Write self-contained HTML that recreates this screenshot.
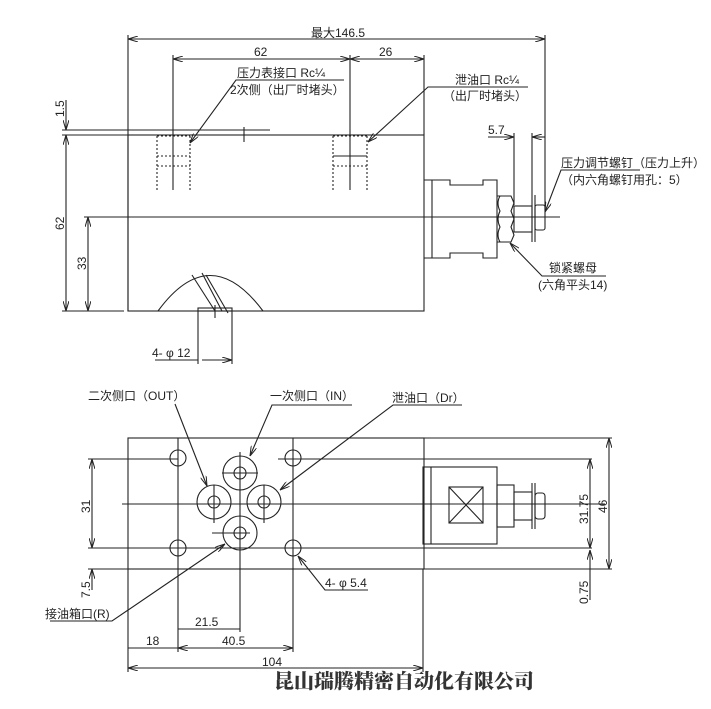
<!DOCTYPE html>
<html><head><meta charset="utf-8"><style>
html,body{margin:0;padding:0;background:#fff;}
svg{display:block;}
text{font-family:"Liberation Sans","Noto Sans CJK SC",sans-serif;font-size:12px;fill:#222;}
</style></head><body>
<svg width="711" height="709" viewBox="0 0 711 709" xmlns="http://www.w3.org/2000/svg">
<defs>
<marker id="a" viewBox="0 0 10 6" refX="10" refY="3" markerWidth="10" markerHeight="6" orient="auto-start-reverse" markerUnits="userSpaceOnUse"><path d="M0,0 L10,3 L0,6" fill="none" stroke="#222" stroke-width="1"/></marker>
</defs>
<g stroke="#222" stroke-width="1.1" fill="none">
<rect x="128" y="135" width="296" height="176"/>
<line x1="128" y1="35" x2="128" y2="311"/>
<line x1="545" y1="35" x2="545" y2="210"/>
<line x1="128" y1="39" x2="545" y2="39" marker-start="url(#a)" marker-end="url(#a)"/>
<line x1="173" y1="55" x2="173" y2="190"/>
<line x1="350" y1="55" x2="350" y2="190"/>
<line x1="424" y1="55" x2="424" y2="135"/>
<line x1="173" y1="59" x2="350" y2="59" marker-start="url(#a)" marker-end="url(#a)"/>
<line x1="350" y1="59" x2="424" y2="59" marker-start="url(#a)" marker-end="url(#a)"/>
<line x1="62" y1="130" x2="270" y2="130"/>
<line x1="62" y1="135" x2="128" y2="135"/>
<line x1="66" y1="100" x2="66" y2="130" marker-end="url(#a)"/>
<line x1="66" y1="135" x2="66" y2="311" marker-start="url(#a)" marker-end="url(#a)"/>
<line x1="62" y1="311" x2="124" y2="311"/>
<line x1="88" y1="217" x2="88" y2="311" marker-start="url(#a)" marker-end="url(#a)"/>
<line x1="84" y1="217" x2="560" y2="217"/>
<line x1="244" y1="127" x2="244" y2="142"/>
<g stroke-dasharray="2,2">
<line x1="157" y1="136" x2="190" y2="136"/>
<line x1="157" y1="136" x2="157" y2="190"/>
<line x1="190" y1="136" x2="190" y2="190"/>
<line x1="157" y1="156" x2="190" y2="156"/>
<line x1="157" y1="166" x2="190" y2="166"/>
<line x1="333" y1="136" x2="367" y2="136"/>
<line x1="333" y1="136" x2="333" y2="190"/>
<line x1="367" y1="136" x2="367" y2="190"/>
<line x1="333" y1="166" x2="367" y2="166"/>
</g>
<line x1="333" y1="156" x2="367" y2="156"/>
<path d="M158,311 Q210,240 263,311"/>
<rect x="198" y="308" width="34" height="3"/>
<line x1="192" y1="275" x2="215" y2="311"/>
<line x1="202" y1="273" x2="222" y2="311"/>
<line x1="206" y1="275" x2="228" y2="313"/>
<line x1="215" y1="305" x2="215" y2="318"/>
<line x1="198" y1="311" x2="198" y2="364"/>
<line x1="232" y1="311" x2="232" y2="364"/>
<line x1="155" y1="360" x2="198" y2="360"/>
<line x1="202" y1="360" x2="232" y2="360" marker-end="url(#a)"/>
<path d="M424,180 H450 V185 H483 V180 H497 V258 H483 V253 H450 V258 H424"/>
<line x1="432" y1="180" x2="432" y2="258"/>
<path d="M497,196 H511 L514,203 L511,211 L514,219 L511,227 L514,235 L511,242 H497"/>
<path d="M500,196 Q496,203 500,211 Q496,219 500,227 Q496,235 500,242"/>
<rect x="514" y="206" width="18" height="26"/>
<line x1="532" y1="195" x2="532" y2="242"/>
<line x1="535" y1="195" x2="535" y2="242"/>
<rect x="535" y="205" width="10" height="25" rx="2"/>
<line x1="514" y1="133" x2="514" y2="205"/>
<line x1="532" y1="133" x2="532" y2="195"/>
<line x1="488" y1="137" x2="514" y2="137" marker-end="url(#a)"/>
<line x1="532" y1="137" x2="545" y2="137" marker-start="url(#a)"/>
<polyline points="344,80 236,80 190,143" marker-end="url(#a)"/>
<polyline points="528,87 428,87 368,142" marker-end="url(#a)"/>
<polyline points="640,170 561,170 545,212" marker-end="url(#a)"/>
<polyline points="606,276 542,276 510,243" marker-end="url(#a)"/>

<rect x="128" y="438" width="296" height="131"/>
<line x1="128" y1="569" x2="128" y2="672"/>
<line x1="423" y1="569" x2="423" y2="672"/>
<line x1="178" y1="438" x2="178" y2="652"/>
<line x1="293" y1="438" x2="293" y2="652"/>
<line x1="240" y1="535" x2="240" y2="632"/>
<line x1="424" y1="438" x2="612" y2="438"/>
<line x1="88" y1="459" x2="178" y2="459"/>
<line x1="278" y1="459" x2="592" y2="459"/>
<line x1="122" y1="504" x2="605" y2="504"/>
<line x1="88" y1="548" x2="592" y2="548"/>
<line x1="88" y1="569" x2="128" y2="569"/>
<line x1="424" y1="569" x2="612" y2="569"/>
<line x1="92" y1="459" x2="92" y2="548" marker-start="url(#a)" marker-end="url(#a)"/>
<line x1="92" y1="569" x2="92" y2="590" marker-start="url(#a)"/>
<line x1="590" y1="459" x2="590" y2="548" marker-start="url(#a)" marker-end="url(#a)"/>
<line x1="590" y1="550" x2="590" y2="600" marker-start="url(#a)"/>
<line x1="609" y1="438" x2="609" y2="569" marker-start="url(#a)" marker-end="url(#a)"/>
<line x1="178" y1="629" x2="240" y2="629"/>
<line x1="128" y1="648" x2="178" y2="648"/>
<line x1="178" y1="648" x2="293" y2="648" marker-start="url(#a)" marker-end="url(#a)"/>
<line x1="128" y1="668" x2="423" y2="668" marker-start="url(#a)" marker-end="url(#a)"/>
<circle cx="178" cy="458" r="8"/><circle cx="293" cy="458" r="8"/>
<circle cx="178" cy="548" r="8"/><circle cx="293" cy="548" r="8"/>
<circle cx="240" cy="473" r="17"/><circle cx="240" cy="473" r="6"/>
<circle cx="214" cy="502" r="17"/><circle cx="214" cy="502" r="6"/>
<circle cx="264" cy="502" r="17"/><circle cx="264" cy="502" r="6"/>
<circle cx="240" cy="533" r="17"/><circle cx="240" cy="533" r="6"/>
<line x1="240" y1="452" x2="240" y2="535"/>
<line x1="222" y1="473" x2="258" y2="473"/>
<line x1="214" y1="485" x2="214" y2="523"/>
<line x1="264" y1="485" x2="264" y2="523"/>
<line x1="212" y1="533" x2="250" y2="533"/>
<rect x="423" y="467" width="74" height="77"/>
<line x1="431" y1="467" x2="431" y2="544"/>
<rect x="449" y="487" width="34" height="36"/>
<line x1="449" y1="487" x2="483" y2="523"/><line x1="483" y1="487" x2="449" y2="523"/>
<rect x="497" y="485" width="17" height="42"/>
<rect x="514" y="492" width="18" height="28"/>
<line x1="532" y1="483" x2="532" y2="529"/>
<line x1="535" y1="483" x2="535" y2="529"/>
<rect x="535" y="493" width="10" height="26" rx="3"/>
<polyline points="175,404 207,486" marker-end="url(#a)"/>
<polyline points="352,405 272,405 250,456" marker-end="url(#a)"/>
<polyline points="462,405 393,405 280,490" marker-end="url(#a)"/>
<polyline points="50,621 112,621 225,544" marker-end="url(#a)"/>
<polyline points="368,590 325,590 298,556" marker-end="url(#a)"/>
</g>
<text x="311" y="37">最大146.5</text>
<text x="254" y="56">62</text>
<text x="379" y="56">26</text>
<text x="237" y="77">压力表接口 Rc¼</text>
<text x="230" y="94">2次侧（出厂时堵头）</text>
<text x="455" y="84">泄油口 Rc¼</text>
<text x="443" y="100">（出厂时堵头）</text>
<text x="488" y="134">5.7</text>
<text x="561" y="167">压力调节螺钉（压力上升）</text>
<text x="561" y="184">（内六角螺钉用孔：5）</text>
<text x="549" y="272">锁紧螺母</text>
<text x="538" y="289">(六角平头14)</text>
<text x="152" y="357">4- φ 12</text>
<text transform="translate(64,117) rotate(-90)">1.5</text>
<text transform="translate(64,230) rotate(-90)">62</text>
<text transform="translate(86,270) rotate(-90)">33</text>
<text x="88" y="400">二次侧口（OUT）</text>
<text x="270" y="400">一次侧口（IN）</text>
<text x="392" y="402">泄油口（Dr）</text>
<text x="45" y="618">接油箱口(R)</text>
<text x="325" y="587">4- φ 5.4</text>
<text x="195" y="626">21.5</text>
<text x="146" y="645">18</text>
<text x="222" y="645">40.5</text>
<text x="262" y="666">104</text>
<text transform="translate(90,513) rotate(-90)">31</text>
<text transform="translate(90,598) rotate(-90)">7.5</text>
<text transform="translate(588,524) rotate(-90)">31.75</text>
<text transform="translate(607,513) rotate(-90)">46</text>
<text transform="translate(588,604) rotate(-90)">0.75</text>
<text x="274" y="688" style="font-family:'Noto Serif CJK SC',serif;font-size:20px;font-weight:900;fill:#333;">昆山瑞腾精密自动化有限公司</text>
</svg>
</body></html>
